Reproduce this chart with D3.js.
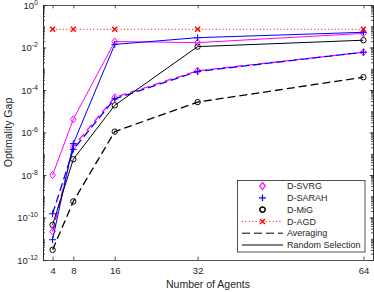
<!DOCTYPE html>
<html>
<head>
  <meta charset="utf-8">
  <script src="https://d3js.org/d3.v7.min.js"></script>
  <style type="text/css">
    body { margin: 0; background: #fff; }
    text { font-family: "Liberation Sans", Arial, sans-serif; fill: #262626; }
  </style>
</head>
<body>
  <script type="text/javascript">
    // number of agents on the x axis
    var agents = [4, 8, 16, 32, 64];

    // optimality gap, one array per curve
    var svrgAvg   = [2.2e-11, 2.2e-7, 4.5e-5, 8.0e-4, 6.0e-3];
    var svrgRand  = [1.0e-8, 4.2e-6, 1.9e-2, 1.7e-2, 4.6e-2];
    var sarahAvg  = [1.5e-10, 1.6e-7, 3.8e-5, 7.5e-4, 6.0e-3];
    var sarahRand = [9.0e-12, 3.0e-7, 1.4e-2, 2.9e-2, 5.2e-2];
    var migAvg    = [3.0e-12, 5.7e-10, 1.1e-6, 2.7e-5, 4.0e-4];
    var migRand   = [4.5e-11, 5.5e-8, 1.9e-5, 1.1e-2, 2.2e-2];
    var agd       = [7.2e-2, 7.2e-2, 7.2e-2, 7.2e-2, 7.2e-2];

    var yExponents = [0, -2, -4, -6, -8, -10, -12];
    var legendLabels = ["D-SVRG", "D-SARAH", "D-MiG", "D-AGD", "Averaging", "Random Selection"];

    function draw() {
      "use strict";
      var width = 374,
          height = 292,
          pl = 43, pr = 373, pt = 5, pb = 260;

      var svg = d3.select("body")
        .append("svg")
          .attr("width", width)
          .attr("height", height);

      var x = d3.scaleLinear().domain([2.15, 65.85]).range([pl, pr]);
      var y = d3.scaleLog().domain([1e-12, 1]).range([pb, pt]);

      //minor log ticks: 1..9 in every decade
      var minorTicks = [];
      for (var e = -12; e < 0; e++) {
        for (var m = 1; m < 10; m++) minorTicks.push(m * Math.pow(10, e));
      }
      var majorTicks = yExponents.map(function (p) { return Math.pow(10, p); });

      var axisColor = "#262626";
      var tl = 3.3;

      //Bottom and top axes
      var gx = svg.append("g")
        .attr("transform", "translate(0," + pb + ")")
        .call(d3.axisBottom(x).tickValues(agents).tickSizeInner(-tl).tickSizeOuter(0).tickPadding(7));
      svg.append("g")
        .attr("transform", "translate(0," + pt + ")")
        .call(d3.axisTop(x).tickValues(agents).tickSizeInner(-tl).tickSizeOuter(0).tickFormat(""));

      //Left and right axes, minor first
      svg.append("g")
        .attr("transform", "translate(" + pl + ",0)")
        .call(d3.axisLeft(y).tickValues(minorTicks).tickSizeInner(-2).tickSizeOuter(0).tickFormat(""));
      svg.append("g")
        .attr("transform", "translate(" + pr + ",0)")
        .call(d3.axisRight(y).tickValues(minorTicks).tickSizeInner(-2).tickSizeOuter(0).tickFormat(""));
      var gy = svg.append("g")
        .attr("transform", "translate(" + pl + ",0)")
        .call(d3.axisLeft(y).tickValues(majorTicks).tickSizeInner(-tl).tickSizeOuter(0).tickPadding(5).tickFormat(""));
      svg.append("g")
        .attr("transform", "translate(" + pr + ",0)")
        .call(d3.axisRight(y).tickValues(majorTicks).tickSizeInner(-tl).tickSizeOuter(0).tickFormat(""));

      svg.selectAll(".domain, .tick line")
        .attr("stroke", axisColor)
        .attr("stroke-width", 0.8);

      gx.selectAll("text")
        .style("font-size", "9.5px")
        .attr("fill", axisColor);

      //superscript labels for y
      gy.selectAll(".tick text")
        .attr("text-anchor", "end")
        .attr("dy", "0.32em")
        .attr("fill", axisColor)
        .style("font-size", "9.5px")
        .each(function (d) {
          var t = d3.select(this);
          t.append("tspan").text("10");
          t.append("tspan")
            .attr("dy", "-0.55em")
            .style("font-size", "7px")
            .text(String(Math.round(Math.log10(d))));
        });

      //axis titles
      svg.append("text")
        .attr("x", (pl + pr) / 2)
        .attr("y", 288)
        .attr("text-anchor", "middle")
        .style("font-size", "10.5px")
        .text("Number of Agents");

      svg.append("text")
        .attr("transform", "translate(12," + ((pt + pb) / 2) + ") rotate(-90)")
        .attr("text-anchor", "middle")
        .style("font-size", "10.5px")
        .text("Optimality Gap");

      //series
      var series = [
        { vals: svrgAvg,   color: "#ff00ff", dash: "8,4", marker: "diamond" },
        { vals: svrgRand,  color: "#ff00ff", dash: null,  marker: "diamond" },
        { vals: sarahAvg,  color: "#0000ff", dash: "8,4", marker: "plus" },
        { vals: sarahRand, color: "#0000ff", dash: null,  marker: "plus" },
        { vals: migAvg,    color: "#000000", dash: "8,4", marker: "circle" },
        { vals: migRand,   color: "#000000", dash: null,  marker: "circle" },
        { vals: agd,       color: "#ff0000", dash: "1,2.4", marker: "cross" }
      ];

      var line = d3.line()
        .x(function (d, i) { return x(agents[i]); })
        .y(function (d) { return y(d); });

      var markerPath = {
        diamond: "M0,-3.6L2.8,0L0,3.6L-2.8,0Z",
        plus: "M-3.4,0H3.4M0,-3.4V3.4",
        circle: d3.symbol().type(d3.symbolCircle).size(Math.PI * 2.7 * 2.7)(),
        cross: "M-2.5,-2.5L2.5,2.5M-2.5,2.5L2.5,-2.5"
      };

      var plot = svg.append("g");
      series.forEach(function (s) {
        plot.append("path")
          .datum(s.vals)
          .attr("d", line)
          .attr("fill", "none")
          .attr("stroke", s.color)
          .attr("stroke-width", s.dash && s.marker !== "cross" ? 1.3 : 1)
          .attr("stroke-dasharray", s.dash);
        plot.selectAll(null)
          .data(s.vals)
          .enter()
          .append("path")
            .attr("transform", function (d, i) { return "translate(" + x(agents[i]) + "," + y(d) + ")"; })
            .attr("d", markerPath[s.marker])
            .attr("fill", "none")
            .attr("stroke", s.color)
            .attr("stroke-width", s.marker === "cross" ? 1.4 : 1);
      });

      //Legend
      var lg = svg.append("g");
      lg.append("rect")
        .attr("x", 237.5).attr("y", 180.5)
        .attr("width", 127.5).attr("height", 71.5)
        .attr("fill", "#fff")
        .attr("stroke", axisColor)
        .attr("stroke-width", 0.8);

      var legendItems = [
        { color: "#ff00ff", marker: "diamond", dash: null, line: false },
        { color: "#0000ff", marker: "plus", dash: null, line: false },
        { color: "#000000", marker: "circle", dash: null, line: false },
        { color: "#ff0000", marker: "cross", dash: "1,2.4", line: true },
        { color: "#000000", marker: null, dash: "8,4", line: true },
        { color: "#000000", marker: null, dash: null, line: true }
      ];

      legendItems.forEach(function (it, i) {
        var cy = 186 + i * 11.8;
        if (it.line) {
          lg.append("line")
            .attr("x1", 242).attr("x2", 283)
            .attr("y1", cy).attr("y2", cy)
            .attr("stroke", it.color)
            .attr("stroke-width", 1)
            .attr("stroke-dasharray", it.dash);
        }
        if (it.marker) {
          lg.append("path")
            .attr("transform", "translate(262.5," + cy + ")")
            .attr("d", markerPath[it.marker])
            .attr("fill", "none")
            .attr("stroke", it.color)
            .attr("stroke-width", it.marker === "cross" ? 1.4 : (it.marker === "circle" ? 1.5 : 1.2));
        }
        lg.append("text")
          .attr("x", 287)
          .attr("y", cy)
          .attr("dy", "0.35em")
          .style("font-size", "9px")
          .text(legendLabels[i]);
      });
    }

    draw();
  </script>
</body>
</html>
